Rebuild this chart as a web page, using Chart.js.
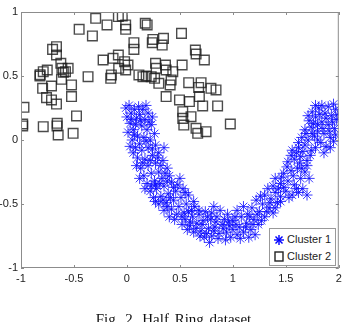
<!DOCTYPE html>
<html>
<head>
<meta charset="utf-8">
<script src="https://cdn.jsdelivr.net/npm/chart.js@4.4.1/dist/chart.umd.min.js"></script>
<style>
    html, body { margin: 0; padding: 0; background: #fff; }
    #wrap { position: relative; width: 347px; height: 322px; overflow: hidden; }
    #chart { position: absolute; left: 0; top: 0; }
    .legend {
        position: absolute; left: 269px; top: 228px; width: 67px; height: 38px;
        background: #fff; border: 1px solid #999; box-sizing: border-box;
        font: 11px "Liberation Sans", Arial, sans-serif; color: #222;
        padding: 2px 0 0 4px;
    }
    .legend div { height: 17px; line-height: 17px; white-space: nowrap; }
    .legend svg { vertical-align: -2px; margin-right: 3px; }
    .caption {
        position: absolute; left: 0; width: 347px; top: 312px; text-align: center;
        font: 15px "Liberation Serif", "Times New Roman", serif; color: #111; line-height: 15px;
        word-spacing: 2px;
    }
</style>
</head>
<body>
<div id="wrap">
    <canvas id="chart" width="347" height="322"></canvas>
    <div class="legend">
        <div><svg width="10" height="10" viewBox="0 0 10 10"><g stroke="#0000ff" stroke-width="1.4"><line x1="5" y1="0" x2="5" y2="10"/><line x1="0" y1="5" x2="10" y2="5"/><line x1="1.5" y1="1.5" x2="8.5" y2="8.5"/><line x1="8.5" y1="1.5" x2="1.5" y2="8.5"/></g></svg>Cluster 1</div>
        <div><svg width="10" height="11" viewBox="0 0 10 11"><rect x="1" y="1" width="8" height="9" fill="none" stroke="#222" stroke-width="1.4"/></svg>Cluster 2</div>
    </div>
    <div class="caption">Fig. 2. Half Ring dataset</div>
</div>
<script>
// Cluster 1: the lower half ring (blue asterisks)
const cluster1 = [
    [-0.01,0.25],[0.02,0.27],[0.0,0.18],[0.04,0.21],[0.03,0.13],[0.07,0.24],[0.09,0.17],[0.06,0.08],
    [0.12,0.2],[0.15,0.24],[0.17,0.16],[0.2,0.21],[0.14,0.11],[0.19,0.08],[0.23,0.12],[0.1,0.03],
    [0.16,0.02],[0.22,0.0],[0.26,0.05],[0.05,0.0],[0.12,-0.03],[0.08,0.12],[0.24,0.18],[0.01,0.06],
    [0.04,0.16],[0.11,0.26],[0.18,0.27],[0.21,0.14],[0.13,0.15],[0.07,0.04],[0.18,-0.01],[0.24,-0.07],
    [0.08,-0.06],[0.14,-0.08],[0.2,-0.06],[0.27,-0.04],[0.1,-0.14],[0.17,-0.15],[0.24,-0.12],[0.3,-0.1],
    [0.13,-0.22],[0.2,-0.2],[0.27,-0.18],[0.34,-0.16],[0.16,-0.28],[0.23,-0.26],[0.3,-0.25],[0.38,-0.22],
    [0.19,-0.34],[0.26,-0.32],[0.33,-0.3],[0.4,-0.28],[0.06,-0.1],[0.35,-0.06],[0.12,-0.3],
    [0.03,-0.05],[0.09,-0.2],[0.15,-0.18],[0.22,-0.16],[0.29,-0.14],[0.32,-0.2],[0.36,-0.26],
    [0.22,-0.4],[0.28,-0.38],[0.35,-0.36],[0.42,-0.33],[0.48,-0.35],[0.25,-0.45],[0.32,-0.44],[0.39,-0.42],
    [0.46,-0.4],[0.53,-0.38],[0.3,-0.5],[0.37,-0.49],[0.44,-0.47],[0.51,-0.45],[0.58,-0.43],[0.35,-0.55],
    [0.42,-0.54],[0.49,-0.52],[0.56,-0.5],[0.63,-0.48],[0.4,-0.6],[0.47,-0.58],[0.54,-0.57],[0.61,-0.55],
    [0.27,-0.35],[0.5,-0.3],[0.17,-0.38],[0.23,-0.36],[0.31,-0.34],[0.38,-0.32],[0.44,-0.37],[0.27,-0.48],
    [0.34,-0.47],[0.41,-0.45],[0.55,-0.41],[0.45,-0.62],[0.38,-0.52],[0.52,-0.6],[0.6,-0.64],
    [0.55,-0.62],[0.62,-0.6],[0.68,-0.58],[0.74,-0.56],[0.52,-0.66],[0.59,-0.67],[0.66,-0.65],[0.72,-0.63],
    [0.79,-0.62],[0.85,-0.6],[0.63,-0.72],[0.7,-0.71],[0.77,-0.69],[0.83,-0.68],[0.9,-0.66],[0.96,-0.64],
    [0.73,-0.76],[0.8,-0.75],[0.87,-0.73],[0.94,-0.72],[1.0,-0.7],[0.78,-0.8],[0.93,-0.78],[0.98,-0.76],
    [1.04,-0.74],[0.68,-0.55],[0.88,-0.55],[0.95,-0.58],[1.02,-0.6],[0.82,-0.52],
    [0.57,-0.7],[0.65,-0.69],[0.69,-0.75],[0.75,-0.73],[0.82,-0.71],[0.86,-0.77],[0.91,-0.69],[0.97,-0.67],
    [0.84,-0.64],[0.76,-0.6],[0.71,-0.66],[0.92,-0.62],[1.0,-0.63],[1.07,-0.77],[1.03,-0.66],[0.64,-0.52],
    [0.58,-0.56],[0.8,-0.57],
    [1.06,-0.68],[1.1,-0.72],[1.13,-0.65],[1.17,-0.7],[1.08,-0.6],[1.14,-0.58],[1.2,-0.62],[1.24,-0.66],
    [1.1,-0.52],[1.18,-0.53],[1.25,-0.56],[1.3,-0.6],[1.22,-0.47],[1.28,-0.5],[1.34,-0.53],[1.38,-0.57],
    [1.3,-0.43],[1.36,-0.46],[1.42,-0.49],[1.33,-0.38],[1.4,-0.41],[1.15,-0.76],[1.21,-0.74],[1.04,-0.55],
    [1.12,-0.68],[1.19,-0.66],[1.16,-0.6],[1.23,-0.58],[1.27,-0.63],[1.32,-0.56],[1.26,-0.44],[1.35,-0.49],
    [1.4,-0.53],[1.45,-0.48],[1.38,-0.36],[1.43,-0.38],[1.48,-0.37],[1.53,-0.45],[1.6,-0.38],[1.66,-0.38],
    [1.45,-0.44],[1.5,-0.4],[1.56,-0.43],[1.62,-0.41],[1.7,-0.43],[1.45,-0.34],[1.52,-0.32],[1.58,-0.35],
    [1.64,-0.3],[1.48,-0.26],[1.55,-0.24],[1.61,-0.22],[1.68,-0.25],[1.52,-0.17],[1.58,-0.15],[1.64,-0.13],
    [1.7,-0.16],[1.56,-0.08],[1.62,-0.06],[1.68,-0.04],[1.74,-0.08],[1.4,-0.3],[1.72,-0.3],
    [1.46,-0.29],[1.51,-0.21],[1.57,-0.28],[1.63,-0.18],[1.66,-0.09],[1.55,-0.12],[1.6,-0.1],[1.7,-0.2],
    [1.73,-0.12],[1.78,-0.06],[1.86,-0.1],[1.92,-0.06],[1.65,-0.22],
    [1.65,0.02],[1.71,0.0],[1.77,0.03],[1.83,-0.02],[1.68,0.08],[1.74,0.1],[1.8,0.07],[1.86,0.05],
    [1.92,0.02],[1.72,0.15],[1.78,0.18],[1.84,0.14],[1.9,0.12],[1.96,0.09],[1.75,0.22],[1.81,0.25],
    [1.87,0.21],[1.93,0.19],[1.98,0.16],[1.78,0.27],[1.9,0.26],[1.97,0.24],[1.62,-0.02],[1.88,-0.05],
    [1.95,-0.01],[1.69,0.05],[1.75,0.05],[1.8,0.0],[1.85,0.09],[1.91,0.07],[1.97,0.04],[1.71,0.19],
    [1.76,0.13],[1.82,0.2],[1.88,0.17],[1.94,0.14],[1.8,0.12],[1.99,0.2],[1.84,0.27],[1.95,0.28]
];

// Cluster 2: the upper half ring (squares)
const cluster2 = [
    [-0.295,0.951],[-0.188,0.899],[-0.081,0.964],[-0.044,0.969],[-0.012,0.899],[-0.012,0.865],
    [-0.451,0.865],[-0.326,0.813],[0.173,0.912],[0.191,0.899],[0.515,0.833],[0.245,0.786],
    [0.239,0.76],[0.345,0.794],[0.333,0.742],[0.066,0.76],[0.066,0.708],[-0.702,0.708],
    [-0.665,0.729],[-0.665,0.664],[-0.225,0.625],[-0.131,0.638],[-0.081,0.664],[-0.022,0.612],
    [0.01,0.586],[0.646,0.703],[0.653,0.672],[0.731,0.625],[0.521,0.586],[0.27,0.599],
    [0.364,0.586],[0.37,0.547],[0.433,0.534],[-0.79,0.534],[-0.752,0.547],[-0.821,0.5],
    [-0.614,0.56],[-0.555,0.56],[-0.58,0.534],[-0.618,0.474],[-0.367,0.495],[-0.147,0.508],
    [-0.153,0.482],[-0.078,0.56],[-0.012,0.547],[0.113,0.508],[0.182,0.5],[0.261,0.482],
    [0.301,0.443],[0.417,0.469],[0.408,0.43],[-0.796,0.404],[-0.712,0.422],[-0.759,0.331],
    [-0.712,0.313],[-0.665,0.281],[-0.523,0.43],[-0.523,0.339],[0.583,0.448],[0.7,0.448],
    [0.677,0.411],[0.793,0.404],[0.841,0.391],[0.684,0.339],[0.37,0.339],[0.496,0.313],
    [0.59,0.3],[0.715,0.266],[0.856,0.266],[0.527,0.221],[0.605,0.182],[0.527,0.169],
    [0.537,0.117],[0.652,0.091],[0.668,0.052],[0.747,0.065],[0.976,0.125],[-0.972,0.255],
    [-0.984,0.125],[-0.79,0.104],[-0.658,0.13],[-0.649,0.039],[-0.508,0.052],[-0.476,0.188],
    [-0.624,0.599],[0.276,0.56],[0.229,0.495],[0.151,0.495],[-0.984,0.11],[-0.66,0.11],
    [-0.6,0.53],[-0.82,0.51]
];

const xTicks = [-1, -0.5, 0, 0.5, 1, 1.5, 2];
const yTicks = [-1, -0.5, 0, 0.5, 1];

const toPoints = (rows) => rows.map(([x, y]) => ({ x, y }));

// box around the plot with short ticks pointing inward on all four sides
const frameTicks = {
    id: 'frameTicks',
    afterDatasetsDraw: (chart) => {
        const ctx = chart.ctx;
        const a = chart.chartArea;
        const xs = chart.scales.x;
        const ys = chart.scales.y;
        ctx.save();
        ctx.strokeStyle = '#8c8c8c';
        ctx.lineWidth = 1;
        ctx.strokeRect(a.left + 0.5, a.top + 0.5, a.right - a.left - 1, a.bottom - a.top - 1);
        ctx.beginPath();
        xTicks.forEach(v => {
            const px = Math.round(xs.getPixelForValue(v)) + 0.5;
            ctx.moveTo(px, a.bottom);
            ctx.lineTo(px, a.bottom - 3);
            ctx.moveTo(px, a.top);
            ctx.lineTo(px, a.top + 3);
        });
        yTicks.forEach(v => {
            const py = Math.round(ys.getPixelForValue(v)) + 0.5;
            ctx.moveTo(a.left, py);
            ctx.lineTo(a.left + 3, py);
            ctx.moveTo(a.right, py);
            ctx.lineTo(a.right - 3, py);
        });
        ctx.stroke();
        ctx.restore();
    }
};

new Chart(document.getElementById('chart'), {
    type: 'scatter',
    plugins: [frameTicks],
    data: {
        datasets: [{
            label: 'Cluster 1',
            data: toPoints(cluster1),
            pointStyle: 'star',
            pointRadius: 5.5,
            borderColor: 'rgba(10, 10, 255, 0.8)',
            backgroundColor: 'rgba(10, 10, 255, 0.8)',
            borderWidth: 1
        }, {
            label: 'Cluster 2',
            data: toPoints(cluster2),
            pointStyle: 'rect',
            pointRadius: 6.8,
            borderColor: 'rgba(30, 30, 30, 0.8)',
            backgroundColor: 'rgba(0, 0, 0, 0)',
            borderWidth: 1.4
        }]
    },
    options: {
        responsive: false,
        animation: false,
        layout: { padding: { top: 12, right: 8, bottom: 0, left: 0 } },
        plugins: {
            legend: { display: false },
            tooltip: { enabled: false }
        },
        scales: {
            x: {
                type: 'linear',
                min: -1,
                max: 2,
                afterBuildTicks: (s) => { s.ticks = xTicks.map(v => ({ value: v })); },
                afterFit: (s) => { s.height = 54; },
                grid: { display: false, drawTicks: false },
                border: { display: false },
                ticks: {
                    padding: 4,
                    color: '#222',
                    callback: (v) => String(v),
                    font: { family: '"Liberation Sans", Arial, sans-serif', size: 11 }
                }
            },
            y: {
                type: 'linear',
                min: -1,
                max: 1,
                afterBuildTicks: (s) => { s.ticks = yTicks.map(v => ({ value: v })); },
                afterFit: (s) => { s.width = 21; },
                grid: { display: false, drawTicks: false },
                border: { display: false },
                ticks: {
                    padding: 3,
                    color: '#222',
                    callback: (v) => String(v),
                    font: { family: '"Liberation Sans", Arial, sans-serif', size: 11 }
                }
            }
        }
    }
});
</script>
</body>
</html>
